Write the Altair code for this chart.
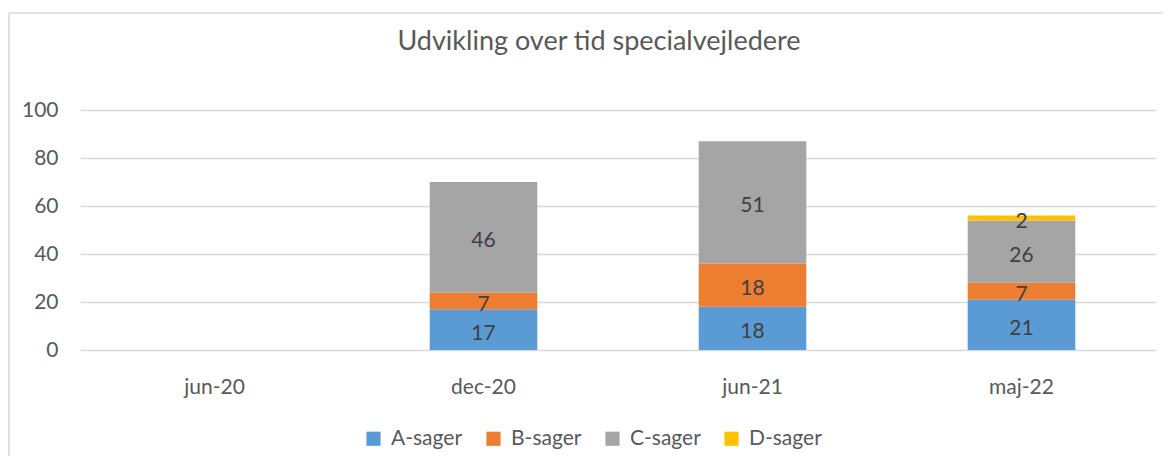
import altair as alt
import pandas as pd

periods = ["jun-20", "dec-20", "jun-21", "maj-22"]
series = ["A-sager", "B-sager", "C-sager", "D-sager"]
colors = ["#5B9BD5", "#ED7D31", "#A5A5A5", "#FFC000"]

# values per series for each period (None = no bar)
a_vals = [None, 17, 18, 21]
b_vals = [None, 7, 18, 7]
c_vals = [None, 46, 51, 26]
d_vals = [None, None, None, 2]

rows = []
for si, (name, vals) in enumerate(zip(series, [a_vals, b_vals, c_vals, d_vals])):
    for p, v in zip(periods, vals):
        if v is not None:
            rows.append({"period": p, "serie": name, "value": v, "order": si})
df = pd.DataFrame(rows)

FONT = "Lato"
GREY = "#595959"

base = alt.Chart(df).transform_stack(
    stack="value", groupby=["period"], as_=["y0", "y1"],
    sort=[alt.SortField("order", order="ascending")]
).transform_calculate(mid="(datum.y0 + datum.y1) / 2")

x_enc = alt.X("period:N", sort=periods,
              scale=alt.Scale(domain=periods, paddingInner=0.6, paddingOuter=0.3),
              axis=alt.Axis(title=None, labelAngle=0, labelFontSize=21, labelColor=GREY,
                            labelFont=FONT, labelPadding=26, ticks=False, domain=False,
                            grid=False))

bars = base.mark_bar().encode(
    x=x_enc,
    y=alt.Y("y0:Q", scale=alt.Scale(domain=[0, 100]),
            axis=alt.Axis(title=None, values=[0, 20, 40, 60, 80, 100], labelFontSize=21,
                          labelColor=GREY, labelFont=FONT, labelPadding=22, ticks=False,
                          domain=False, grid=True, gridColor="#D9D9D9", gridWidth=1.3)),
    y2="y1:Q",
    color=alt.Color("serie:N", scale=alt.Scale(domain=series, range=colors),
                    legend=alt.Legend(title=None, orient="none", direction="horizontal",
                                      legendX=283, legendY=318, symbolType="square",
                                      symbolSize=200, symbolStrokeWidth=0, labelFontSize=21,
                                      labelColor=GREY, labelFont=FONT, labelOffset=7,
                                      columnPadding=20)),
)

labels = base.mark_text(fontSize=21, font=FONT, color="#404040", baseline="middle", dy=4).encode(
    x=alt.X("period:N", sort=periods),
    y=alt.Y("mid:Q"),
    text=alt.Text("value:Q"),
)

border_left = alt.Chart(pd.DataFrame({"k": [0]})).mark_rule(color="#D9D9D9", strokeWidth=1.5).encode(
    x=alt.value(-71), y=alt.value(-97), y2=alt.value(360))
border_top = alt.Chart(pd.DataFrame({"k": [0]})).mark_rule(color="#D9D9D9", strokeWidth=1.5).encode(
    x=alt.value(-71), x2=alt.value(1090), y=alt.value(-97))

chart = alt.layer(border_left, border_top, bars, labels).properties(
    width=1076, height=240,
    title=alt.TitleParams("Udvikling over tid specialvejledere", fontSize=27, font=FONT,
                          color=GREY, fontWeight="normal", anchor="middle", dx=-19, offset=-44),
    autosize=alt.AutoSizeParams(type="none"),
    padding={"left": 72, "top": 102, "right": 7, "bottom": 106},
).configure_view(stroke=None)

chart.save("out.html", embed_options={"renderer": "svg", "actions": False})
